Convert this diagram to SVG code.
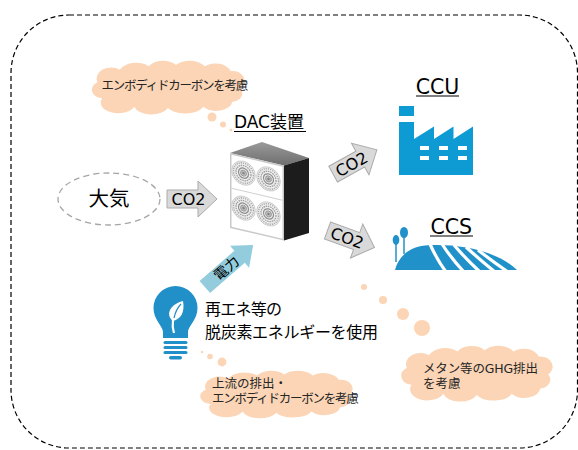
<svg xmlns="http://www.w3.org/2000/svg" width="578" height="450" viewBox="0 0 578 450">
<style>
text{font-family:"DejaVu Sans","Noto Sans CJK JP",sans-serif;fill:#000}
.jp{font-family:"Noto Sans CJK JP",sans-serif}
.cloud{fill:#FBD5B5}
.note{font-size:12.5px;fill:#262626}
.kana{letter-spacing:-1.25px}
.co2{fill:#D9D9D9;stroke:#ABABAB;stroke-width:1}
.co2t{font-size:16px;text-anchor:middle}
.factory{fill:#0E9BD3}
.field{fill:#2191C9}
.bulb{fill:#2290C8}
.ul{stroke:#000;stroke-width:1.2}
.gap{fill:none;stroke:#fff;stroke-width:3.2}
</style>
<defs>
  <!-- thought-cloud outline in a 100x40 box -->
  <path id="cloud" d="M9,30 A7,7 0 0 1 6,17 A9,9 0 0 1 20,7 A11,9 0 0 1 38,4 A10,8 0 0 1 55,3 A11,9 0 0 1 73,4 A10,9 0 0 1 89,8 A8,8 0 0 1 95,22 A7,7 0 0 1 90,33 A10,8 0 0 1 72,37 A12,8 0 0 1 50,38 A11,8 0 0 1 29,37 A10,8 0 0 1 9,30 Z"/>
  <!-- block arrow pointing right, centred on the origin -->
  <path id="fat-arrow" d="M-25,-9H6V-18L25,0L6,18V9H-25Z"/>
  <!-- fan grille of the DAC unit -->
  <g id="fan">
    <circle r="11.8" fill="#EFEFEF" stroke="#C4C4C4" stroke-width="0.8"/>
    <circle r="10" fill="none" stroke="#ABABAB" stroke-width="1.5" stroke-dasharray="1.2 1"/>
    <circle r="7.5" fill="none" stroke="#9E9E9E" stroke-width="1.3" stroke-dasharray="1.5 0.8"/>
    <circle r="5" fill="none" stroke="#8E8E8E" stroke-width="1.2"/>
    <circle r="3" fill="#BDBDBD" stroke="#8E8E8E" stroke-width="0.8"/>
    <circle r="1.2" fill="#808080"/>
  </g>
  <linearGradient id="lid" x1="0" y1="1" x2="0" y2="0">
    <stop offset="0" stop-color="#6E6E6E"/>
    <stop offset="1" stop-color="#9A9A9A"/>
  </linearGradient>
</defs>

<!-- system boundary -->
<rect x="11" y="15" width="566.5" height="433" rx="58" fill="none" stroke="#000" stroke-width="1.2" stroke-dasharray="5 3"/>

<g id="air">
  <ellipse cx="109" cy="199" rx="51" ry="26" fill="none" stroke="#A6A6A6" stroke-width="1.3" stroke-dasharray="6 4"/>
  <text class="jp" x="109" y="206" font-size="20.5" text-anchor="middle">大気</text>
</g>

<g id="dac">
  <path d="M230,153L262,142L309,158L284,165.5Z" fill="url(#lid)"/>
  <path d="M284,165.5L309,158L309,233L284,240.5Z" fill="#1C1C1C"/>
  <g transform="matrix(1,0.2315,0,1,230,153)">
    <rect width="54" height="75" fill="#C9C9C9"/>
    <rect x="1.5" y="1.5" width="51" height="72" fill="#FFFFFF"/>
    <line x1="1.5" y1="35" x2="52.5" y2="35" stroke="#D0D0D0"/>
    <use href="#fan" x="13.5" y="17"/>
    <use href="#fan" x="38.5" y="17"/>
    <use href="#fan" x="13.5" y="52"/>
    <use href="#fan" x="38.5" y="52"/>
  </g>
  <text x="234" y="128" font-size="17">DAC装置</text>
  <line class="ul" x1="234" y1="131.5" x2="306" y2="131.5"/>
</g>

<g id="ccu">
  <text x="437.5" y="93.5" font-size="20.5" text-anchor="middle">CCU</text>
  <line class="ul" x1="416" y1="96" x2="459" y2="96"/>
  <rect class="factory" x="399" y="106" width="15" height="10"/>
  <path class="factory" d="M399,122H414V139L434,126.5V139L453.5,126.5V139L473,126.5V175H399Z"/>
  <g fill="#FFFFFF">
    <rect x="420" y="146" width="9" height="4"/>
    <rect x="439" y="146" width="9" height="4"/>
    <rect x="458" y="146" width="9" height="4"/>
    <rect x="420" y="156" width="9" height="4"/>
    <rect x="439" y="156" width="9" height="4"/>
    <rect x="458" y="156" width="9" height="4"/>
  </g>
</g>

<g id="ccs">
  <text x="451.3" y="233.5" font-size="20.5" text-anchor="middle">CCS</text>
  <line class="ul" x1="430" y1="236" x2="473" y2="236"/>
  <path class="field" d="M395,270C398,258 408,247 425,245.5C455,243.5 495,249 517,270Z"/>
  <path class="gap" d="M430,244Q436,258 446,272"/>
  <path class="gap" d="M442,244Q451,258 464,272"/>
  <path class="gap" d="M454,245Q465,258 480,272"/>
  <path class="gap" d="M466,247Q479,259 495,272"/>
  <path class="gap" d="M478,250Q492,261 508,272"/>
  <line x1="396" y1="242" x2="396" y2="262" stroke="#2191C9" stroke-width="1.5"/>
  <ellipse class="field" cx="396" cy="240" rx="3.3" ry="5"/>
  <line x1="404" y1="234" x2="404" y2="254" stroke="#2191C9" stroke-width="1.5"/>
  <ellipse class="field" cx="404" cy="232.5" rx="4" ry="5.5"/>
</g>

<g id="renewable">
  <path class="bulb" d="M163,338V332C163,326 153.5,320 153.5,308A22,22 0 0 1 197.5,308C197.5,320 188,326 188,332V338Z"/>
  <rect class="bulb" x="163.5" y="341" width="24" height="3" rx="1.5"/>
  <rect class="bulb" x="163.5" y="346" width="24" height="3" rx="1.5"/>
  <rect class="bulb" x="163.5" y="351" width="24" height="3" rx="1.5"/>
  <rect class="bulb" x="169" y="356" width="13" height="3.5" rx="1.75"/>
  <path d="M173,321C166,316 168,305 183,301C185,312 181,319 173,321Z" fill="#FFFFFF"/>
  <path d="M173,320Q172,327 174,333" fill="none" stroke="#FFFFFF" stroke-width="2.2"/>
  <path d="M174,318Q176,309 181,304" fill="none" stroke="#2290C8" stroke-width="1.2"/>
  <text class="jp" font-size="16"><tspan x="205" y="315" textLength="77">再エネ等の</tspan><tspan x="205" y="337.5" textLength="173">脱炭素エネルギーを使用</tspan></text>
</g>

<g id="note-embodied">
  <use href="#cloud" class="cloud" transform="translate(87.7,61.2) scale(1.605,1.233)"/>
  <circle class="cloud" cx="212" cy="117" r="4.5"/>
  <circle class="cloud" cx="223" cy="124.5" r="3"/>
  <circle class="cloud" cx="231" cy="130" r="1.5"/>
  <text class="note kana" x="101.5" y="89.5">エンボディドカーボンを考慮</text>
</g>

<g id="note-upstream">
  <use href="#cloud" class="cloud" transform="translate(196.2,371.1) scale(1.6,1.093)"/>
  <circle class="cloud" cx="202" cy="352" r="1.2"/>
  <circle class="cloud" cx="210" cy="356.5" r="2.8"/>
  <circle class="cloud" cx="222" cy="362" r="4.4"/>
  <text class="note"><tspan x="212" y="387.5">上流の排出・</tspan><tspan class="kana" x="212" y="402.5">エンボディドカーボンを考慮</tspan></text>
</g>

<g id="note-ghg">
  <use href="#cloud" class="cloud" transform="translate(397.2,346.3) scale(1.59,1.28)"/>
  <circle class="cloud" cx="364" cy="287" r="3"/>
  <circle class="cloud" cx="383" cy="300" r="4"/>
  <circle class="cloud" cx="403" cy="314" r="6"/>
  <circle class="cloud" cx="422" cy="328" r="8"/>
  <text class="note"><tspan x="423" y="372.5" textLength="115">メタン等のGHG排出</tspan><tspan x="423" y="387.5">を考慮</tspan></text>
</g>

<g id="connectors">
  <g transform="translate(192,199)">
    <use href="#fat-arrow" class="co2"/>
    <text class="co2t" x="-3.5" y="6">CO2</text>
  </g>
  <g transform="translate(355,162) rotate(-29)">
    <use href="#fat-arrow" class="co2"/>
    <text class="co2t" x="-4" y="6">CO2</text>
  </g>
  <g transform="translate(351,239) rotate(20)">
    <use href="#fat-arrow" class="co2"/>
    <text class="co2t" x="-4" y="6">CO2</text>
  </g>
  <g transform="translate(229,266) rotate(-41)">
    <path d="M-32,-8H14V-14.5L32,0L14,14.5V8H-32Z" fill="#93CDDD"/>
    <text class="jp" x="-3.5" y="5" font-size="14" text-anchor="middle">電力</text>
  </g>
</g>
</svg>
